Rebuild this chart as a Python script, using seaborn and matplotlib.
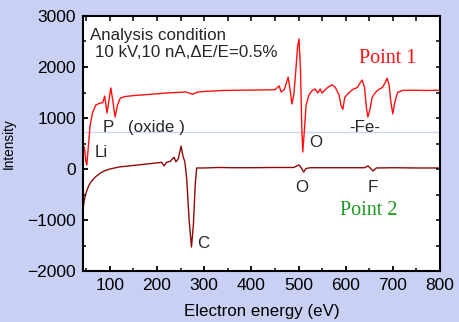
import numpy as np
import pandas as pd
import matplotlib
matplotlib.use("Agg")
import matplotlib.pyplot as plt
import seaborn as sns

# ---- data ----
energy_p1 = [43, 46, 49, 51, 54, 58, 63, 70, 78, 85, 89, 94, 98, 102, 106, 111,
             116, 122, 132, 150, 180, 220, 260, 265, 275, 285, 300, 340, 380, 420,
             450, 459, 463, 470, 478, 483, 486, 490, 494, 498, 501, 504, 507, 509,
             512, 516, 522, 528, 535, 541, 546, 550, 555, 562, 571, 578, 586, 590,
             594, 598, 605, 615, 625, 630, 635, 640, 644, 647, 651, 656, 663, 670,
             678, 684, 688, 692, 696, 700, 704, 710, 720, 740, 770, 800]
intensity_p1 = [470, 420, 150, 80, 400, 850, 1100, 1250, 1290, 1300, 1430, 1100,
                1350, 1590, 1350, 1020, 1250, 1390, 1420, 1440, 1460, 1490, 1510,
                1500, 1465, 1505, 1520, 1540, 1545, 1550, 1555, 1630, 1510, 1560,
                1800, 1500, 1275, 1450, 1900, 2400, 2550, 2000, 800, 333, 700, 1250,
                1450, 1530, 1570, 1490, 1570, 1490, 1540, 1600, 1650, 1600, 1450,
                1250, 1170, 1400, 1480, 1560, 1600, 1680, 1745, 1600, 1200, 1020,
                1150, 1400, 1500, 1560, 1600, 1700, 1780, 1650, 1300, 1080, 1300,
                1500, 1540, 1545, 1540, 1545]

energy_p2 = [43, 46, 50, 55, 60, 70, 80, 90, 100, 120, 140, 160, 180, 200, 210,
             215, 220, 228, 236, 240, 245, 251, 255, 259, 263, 268, 273, 277, 281,
             284, 300, 330, 360, 400, 450, 490, 501, 506, 511, 516, 525, 560, 600,
             640, 647, 652, 658, 665, 700, 750, 800]
intensity_p2 = [-780, -600, -450, -330, -250, -150, -80, -30, 0, 40, 60, 80, 100,
                120, 130, 60, 130, 150, 230, 140, 200, 450, 250, 140, -200, -1000,
                -1530, -1100, -300, 20, 20, 30, 25, 25, 30, 30, 80, 20, -60, 10, 25,
                25, 25, 25, 60, 20, -40, 20, 25, 20, 20]

x_ticks = [100, 200, 300, 400, 500, 600, 700, 800]
y_ticks = [-2000, -1000, 0, 1000, 2000, 3000]
x_minor = [50, 150, 250, 350, 450, 550, 650, 750]
y_minor = [-1500, -500, 500, 1500, 2500]

df1 = pd.DataFrame({"energy": energy_p1, "intensity": intensity_p1})
df2 = pd.DataFrame({"energy": energy_p2, "intensity": intensity_p2})

sns.set_theme(style="ticks")
plt.rcParams["font.family"] = ["Liberation Sans", "DejaVu Sans"]
plt.rcParams.update({
    "axes.linewidth": 1.5, "axes.edgecolor": "black",
    "xtick.major.size": 0, "ytick.major.size": 0,
    "xtick.minor.size": 0, "ytick.minor.size": 0,
    "xtick.labelsize": 12.5, "ytick.labelsize": 12.5,
    "xtick.major.pad": 5, "ytick.major.pad": 5,
    "xtick.color": "black", "ytick.color": "black",
})

W, H = 459, 322
AX_W, AX_H = 440 - 83, 271 - 16
fig = plt.figure(figsize=(W / 100, H / 100), dpi=100)
fig.patch.set_facecolor("#c8d0f4")

ax = fig.add_axes([83 / W, 1 - 271 / H, AX_W / W, AX_H / H])

ax.axhline(725, color="#c8d4f8", lw=0.9)

sns.lineplot(data=df1, x="energy", y="intensity", ax=ax, color="#ff1010",
             lw=1.0, estimator=None)
sns.lineplot(data=df2, x="energy", y="intensity", ax=ax, color="#8e0a0a",
             lw=1.0, estimator=None)

ax.set_xlim(43, 800)
ax.set_ylim(-2000, 3000)
ax.set_xticks(x_ticks)
ax.set_yticks(y_ticks)

# inward tick marks drawn on all four sides
xt = ax.get_xaxis_transform()
yt = ax.get_yaxis_transform()
tk = dict(colors="black", clip_on=False, zorder=5)
ax.vlines(x_ticks, 0, 5 / AX_H, transform=xt, lw=1.3, **tk)
ax.vlines(x_minor, 0, 3 / AX_H, transform=xt, lw=1.1, **tk)
ax.vlines(x_ticks + x_minor, 1 - 5 / AX_H, 1, transform=xt, lw=1.1, **tk)
ax.hlines(y_ticks, 0, 5 / AX_W, transform=yt, lw=1.3, **tk)
ax.hlines(y_minor, 0, 3 / AX_W, transform=yt, lw=1.1, **tk)
ax.hlines(y_ticks + y_minor, 1 - 4 / AX_W, 1, transform=yt, lw=1.1, **tk)

ax.set_xlabel("Electron energy (eV)", fontsize=12.2, labelpad=8, color="black")
ax.set_ylabel("Intensity", fontsize=9.8, labelpad=8, color="black")

fs = 12.2
ax.text(57, 2627, "Analysis condition", fontsize=fs, va="center", ha="left")
ax.text(68, 2275, "10 kV,10 nA,\u0394E/E=0.5%", fontsize=fs, va="center", ha="left")
ax.text(628, 2176, "Point 1", fontsize=14.5, color="#ff1010", va="center",
        ha="left", family=["Liberation Serif", "DejaVu Serif"])
ax.text(85, 804, "P", fontsize=fs, va="center", ha="left")
ax.text(138, 804, "(oxide )", fontsize=fs, va="center", ha="left")
ax.text(68, 314, "Li", fontsize=fs, va="center", ha="left")
ax.text(537, 510, "O", fontsize=fs, va="center", ha="center")
ax.text(607, 804, "-Fe-", fontsize=fs, va="center", ha="left")
ax.text(297, -1470, "C", fontsize=fs, va="center", ha="center")
ax.text(507, -353, "O", fontsize=fs, va="center", ha="center")
ax.text(658, -353, "F", fontsize=fs, va="center", ha="center")
ax.text(587, -804, "Point 2", fontsize=14.5, color="#1e9a1e", va="center",
        ha="left", family=["Liberation Serif", "DejaVu Serif"])

fig.savefig("out.png", dpi=100, facecolor=fig.get_facecolor())
